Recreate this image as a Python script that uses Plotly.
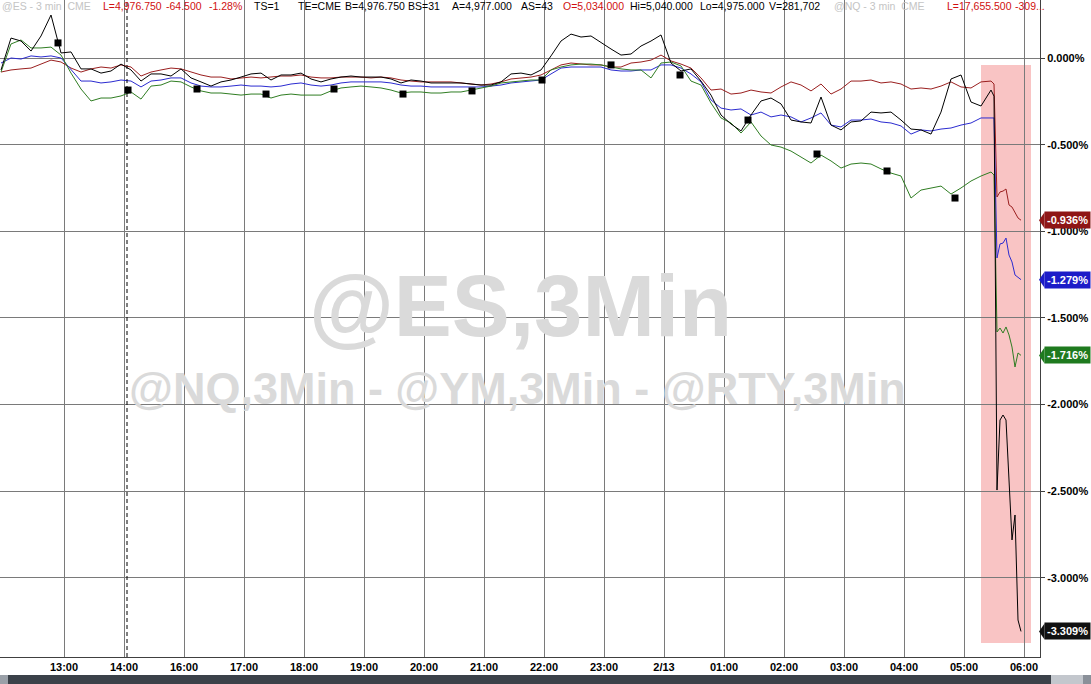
import numpy as np
import plotly.graph_objects as go

# ---------------- data ----------------
# session time axis in hours, 0 = 13:00 (the 15:00 hour is not traded)
tick_pos = list(range(17))
tick_labels = ["13:00", "14:00", "16:00", "17:00", "18:00", "19:00", "20:00", "21:00",
               "22:00", "23:00", "2/13", "01:00", "02:00", "03:00", "04:00", "05:00", "06:00"]

# sampling: every 10 minutes until 05:30, then every 3-minute bar
t_hours = list(-1.05 + np.arange(100) / 6.0) + list(15.5 + np.arange(10) * 0.05)

es_black = [
    -0.069, 0.115, 0.098, 0.040, 0.127, 0.248, 0.029, 0.035, -0.063, -0.063,
    -0.087, -0.075, -0.035, -0.069, -0.133, -0.092, -0.092, -0.104, -0.063, -0.115,
    -0.138, -0.162, -0.138, -0.127, -0.110, -0.092, -0.087, -0.127, -0.098, -0.098,
    -0.087, -0.121, -0.138, -0.121, -0.110, -0.104, -0.110, -0.110, -0.110, -0.121,
    -0.144, -0.127, -0.133, -0.144, -0.144, -0.144, -0.144, -0.150, -0.156, -0.156,
    -0.138, -0.092, -0.087, -0.098, -0.069, 0.012, 0.098, 0.138, 0.121, 0.127,
    0.087, 0.052, 0.017, 0.023, 0.069, 0.098, 0.133, -0.029, -0.075, -0.063,
    -0.133, -0.214, -0.329, -0.381, -0.421, -0.329, -0.248, -0.231, -0.265, -0.358,
    -0.369, -0.375, -0.225, -0.387, -0.415, -0.369, -0.363, -0.312, -0.317, -0.312,
    -0.358, -0.410, -0.415, -0.439, -0.312, -0.121, -0.098, -0.254, -0.277, -0.185,
    -0.220, -2.493, -2.089, -2.060, -2.089, -2.452, -2.781, -2.637, -3.243, -3.309,
]
ym_red = [
    -0.081, -0.069, -0.063, -0.058, -0.035, -0.012, -0.023, -0.058, -0.081, -0.063,
    -0.052, -0.058, -0.040, -0.052, -0.104, -0.081, -0.069, -0.058, -0.063, -0.081,
    -0.098, -0.110, -0.110, -0.121, -0.115, -0.110, -0.115, -0.110, -0.104, -0.104,
    -0.098, -0.110, -0.115, -0.115, -0.110, -0.110, -0.110, -0.115, -0.110, -0.115,
    -0.127, -0.133, -0.138, -0.138, -0.138, -0.138, -0.144, -0.150, -0.156, -0.150,
    -0.138, -0.121, -0.115, -0.110, -0.098, -0.069, -0.040, -0.029, -0.035, -0.040,
    -0.040, -0.052, -0.052, -0.029, -0.023, -0.012, 0.017, -0.017, -0.035, -0.058,
    -0.115, -0.185, -0.179, -0.208, -0.202, -0.185, -0.196, -0.202, -0.167, -0.138,
    -0.156, -0.190, -0.150, -0.208, -0.179, -0.133, -0.133, -0.127, -0.144, -0.138,
    -0.150, -0.179, -0.173, -0.179, -0.162, -0.138, -0.167, -0.173, -0.138, -0.133,
    -0.150, -0.802, -0.773, -0.768, -0.756, -0.848, -0.860, -0.894, -0.923, -0.936,
]
nq_blue = [
    -0.029, 0.000, -0.006, 0.012, 0.006, 0.012, 0.000, -0.069, -0.133, -0.133,
    -0.144, -0.138, -0.127, -0.133, -0.167, -0.133, -0.127, -0.115, -0.115, -0.144,
    -0.162, -0.167, -0.167, -0.162, -0.156, -0.162, -0.162, -0.167, -0.162, -0.150,
    -0.144, -0.156, -0.162, -0.156, -0.144, -0.138, -0.138, -0.138, -0.138, -0.144,
    -0.156, -0.162, -0.162, -0.167, -0.167, -0.167, -0.167, -0.167, -0.167, -0.162,
    -0.156, -0.144, -0.138, -0.133, -0.127, -0.092, -0.058, -0.052, -0.052, -0.052,
    -0.052, -0.069, -0.075, -0.075, -0.069, -0.069, -0.040, -0.040, -0.058, -0.092,
    -0.138, -0.242, -0.289, -0.300, -0.294, -0.329, -0.312, -0.340, -0.329, -0.340,
    -0.369, -0.346, -0.317, -0.387, -0.398, -0.358, -0.358, -0.352, -0.369, -0.375,
    -0.392, -0.439, -0.415, -0.421, -0.410, -0.404, -0.387, -0.375, -0.346, -0.346,
    -0.346, -1.154, -1.073, -1.068, -1.039, -1.137, -1.177, -1.252, -1.264, -1.279,
]
rty_green = [
    -0.081, 0.081, 0.104, 0.058, 0.058, 0.063, 0.017, -0.087, -0.179, -0.248,
    -0.231, -0.231, -0.219, -0.196, -0.237, -0.162, -0.156, -0.133, -0.138, -0.167,
    -0.190, -0.202, -0.202, -0.208, -0.214, -0.208, -0.208, -0.231, -0.214, -0.208,
    -0.214, -0.214, -0.214, -0.190, -0.173, -0.167, -0.162, -0.167, -0.173, -0.185,
    -0.202, -0.196, -0.196, -0.202, -0.202, -0.196, -0.196, -0.185, -0.173, -0.162,
    -0.144, -0.138, -0.133, -0.127, -0.127, -0.069, -0.052, -0.040, -0.035, -0.035,
    -0.040, -0.052, -0.063, -0.069, -0.069, -0.115, -0.029, -0.023, -0.046, -0.133,
    -0.156, -0.260, -0.346, -0.375, -0.433, -0.369, -0.450, -0.502, -0.514, -0.537,
    -0.571, -0.606, -0.560, -0.594, -0.635, -0.612, -0.606, -0.612, -0.640, -0.664,
    -0.681, -0.808, -0.762, -0.750, -0.739, -0.785, -0.750, -0.710, -0.681, -0.658,
    -0.675, -1.581, -1.558, -1.587, -1.552, -1.598, -1.668, -1.783, -1.702, -1.716,
]
# square markers on the green series
marker_t = [-0.1, 1.067, 2.217, 3.367, 4.5, 5.65, 6.8, 7.967, 9.117, 10.267, 11.4, 12.55, 13.717, 14.85]
marker_v = [0.087, -0.185, -0.179, -0.208, -0.179, -0.208, -0.190, -0.127, -0.040, -0.098,
            -0.358, -0.554, -0.652, -0.808]

y_ticks = [0.0, -0.5, -1.0, -1.5, -2.0, -2.5, -3.0]
y_tick_labels = ["0.000%", "-0.500%", "-1.000%", "-1.500%", "-2.000%", "-2.500%", "-3.000%"]

last_labels = ["-0.936%", "-1.279%", "-1.716%", "-3.309%"]
last_values = [-0.936, -1.279, -1.716, -3.309]

header_texts = ["@ES - 3 min  CME", "L=4,976.750", "-64.500", "-1.28%", "TS=1", "TE=CME",
                "B=4,976.750", "BS=31", "A=4,977.000", "AS=43", "O=5,034.000", "Hi=5,040.000",
                "Lo=4,975.000", "V=281,702", "@NQ - 3 min  CME", "L=17,655.500", "-309..."]
header_kind = ["g", "r", "r", "r", "k", "k", "k", "k", "k", "k", "r", "k", "k", "k", "g", "r", "r"]

# ---------------- styling / layout ----------------
W, H = 1091, 684
ML, MR, MT, MB = 0, 51, 0, 27
PW, PH = W - ML - MR, H - MT - MB
FONT = "Liberation Sans"

C_BLACK = "#000000"
C_RED = "#9a1f1f"
C_BLUE = "#2b2bd0"
C_GREEN = "#2f7d22"
LBL_BG = ["#8e1616", "#1c1cc8", "#1f7a1f", "#111111"]

fig = go.Figure()
for vals, col in [(ym_red, C_RED), (nq_blue, C_BLUE), (rty_green, C_GREEN), (es_black, C_BLACK)]:
    fig.add_trace(go.Scatter(x=t_hours, y=vals, mode="lines",
                             line=dict(color=col, width=1), hoverinfo="skip"))
fig.add_trace(go.Scatter(x=marker_t, y=marker_v, mode="markers",
                         marker=dict(symbol="square", size=7, color="black"), hoverinfo="skip"))

x_range = [-64 / 60.0, (PW - 64) / 60.0]
y_top = 58 / 173.3
y_bot = -(PH - 58) / 173.3

fig.update_xaxes(range=x_range, tickvals=tick_pos,
                 ticktext=[f"<b>{s}</b>" for s in tick_labels],
                 showgrid=True, gridcolor="#7a7a7a", gridwidth=1, zeroline=False,
                 showline=True, linecolor="#404040", linewidth=1, ticks="",
                 tickfont=dict(family=FONT, size=11, color="black"))
fig.update_yaxes(range=[y_bot, y_top], side="right", tickvals=y_ticks,
                 ticktext=[f"<b>{s}</b>" for s in y_tick_labels],
                 showgrid=True, gridcolor="#7a7a7a", gridwidth=1, zeroline=False,
                 showline=True, linecolor="#404040", linewidth=1,
                 ticks="outside", ticklen=4, tickcolor="#404040",
                 tickfont=dict(family=FONT, size=11, color="black"))

shapes = []
# highlighted crash window
shapes.append(dict(type="rect", xref="x", yref="y", x0=(981 - 64) / 60, x1=(1031 - 64) / 60,
                   y0=-(643 - 58) / 173.3, y1=-(65 - 58) / 173.3,
                   fillcolor="#f9c4c4", line=dict(width=0), layer="below"))
# dashed session marker
shapes.append(dict(type="line", xref="x", yref="paper", x0=1.05, x1=1.05, y0=0, y1=1,
                   line=dict(color="black", width=1, dash="4px,3px")))


def py(px):
    return 1 - (px - MT) / PH


def pxp(px):
    return (px - ML) / PW


# bottom scrollbar
shapes.append(dict(type="rect", xref="paper", yref="paper", x0=pxp(0), x1=pxp(W),
                   y0=py(684), y1=py(675), fillcolor="#3b4149", line=dict(width=0)))
shapes.append(dict(type="rect", xref="paper", yref="paper", x0=pxp(0), x1=pxp(8),
                   y0=py(684), y1=py(675), fillcolor="#9aa0a8", line=dict(width=0)))
shapes.append(dict(type="rect", xref="paper", yref="paper", x0=pxp(1051), x1=pxp(1083),
                   y0=py(684), y1=py(675), fillcolor="#c3c7cd", line=dict(width=0)))
shapes.append(dict(type="rect", xref="paper", yref="paper", x0=pxp(1083), x1=pxp(W),
                   y0=py(684), y1=py(675), fillcolor="#8a9099", line=dict(width=0)))

annotations = []
# last value flags
for txt, v, bg in zip(last_labels, last_values, LBL_BG):
    annotations.append(dict(xref="paper", yref="y", x=pxp(1044), y=v, xanchor="left",
                            yanchor="middle", showarrow=False, text=f"<b>{txt}</b>",
                            font=dict(family=FONT, size=11, color="white"),
                            bgcolor=bg, borderpad=2))
    dy = 8 / 173.3
    shapes.append(dict(type="path", xref="paper", yref="y",
                       path=f"M {pxp(1039)},{v} L {pxp(1044.5)},{v + dy} L {pxp(1044.5)},{v - dy} Z",
                       fillcolor=bg, line=dict(width=0)))

# watermarks
annotations.append(dict(xref="paper", yref="paper", x=pxp(520), y=py(305), showarrow=False,
                        text="<b>@ES,3Min</b>", font=dict(family=FONT, size=87, color="#dadada"),
                        xanchor="center", yanchor="middle"))
annotations.append(dict(xref="paper", yref="paper", x=pxp(517), y=py(388), showarrow=False,
                        text="<b>@NQ,3Min - @YM,3Min - @RTY,3Min</b>",
                        font=dict(family=FONT, size=45, color="#dadada"),
                        xanchor="center", yanchor="middle"))

# header line
header_x = [0, 101, 164, 207, 252, 296, 343, 406, 450, 519, 561, 628, 698, 767, 832, 945, 1013]
kind_color = {"g": "#c4c4c4", "r": "#d01010", "k": "#000000"}
for txt, k, hx in zip(header_texts, header_kind, header_x):
    annotations.append(dict(xref="paper", yref="paper", x=pxp(hx), y=1, xanchor="left",
                            yanchor="top", yshift=2, showarrow=False,
                            text=txt.replace("  ", "&nbsp;&nbsp;"),
                            font=dict(family=FONT, size=10.5, color=kind_color[k])))

fig.update_layout(width=W, height=H, margin=dict(l=ML, r=MR, t=MT, b=MB),
                  plot_bgcolor="white", paper_bgcolor="white", showlegend=False,
                  shapes=shapes, annotations=annotations)

fig.write_html("out.html", config={"displayModeBar": False},
               post_script="document.body.style.margin='0px';document.body.style.overflow='hidden';")
